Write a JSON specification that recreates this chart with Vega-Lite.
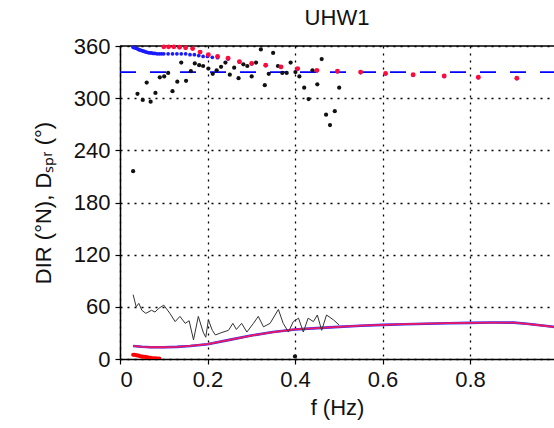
{
  "$schema": "https://vega.github.io/schema/vega-lite/v6.json",
  "width": 434,
  "height": 313,
  "autosize": "none",
  "padding": {"left": 120, "top": 46, "right": 0, "bottom": 69},
  "background": "white",
  "title": {"text": "UHW1", "font": "Liberation Sans", "fontSize": 22, "fontWeight": "normal", "color": "#111", "offset": 5},
  "config": {
    "view": {"stroke": null},
    "axis": {
      "labelFont": "Liberation Sans", "labelFontSize": 22, "labelColor": "#111",
      "titleFont": "Liberation Sans", "titleFontSize": 22, "titleFontWeight": "normal", "titleColor": "#111",
      "domainColor": "#000", "domainWidth": 1.5, "tickColor": "#000", "tickSize": 5, "tickWidth": 1.2,
      "gridColor": "#000", "gridDash": [2, 5], "gridWidth": 1.3, "gridOpacity": 1
    }
  },
  "datasets": {
    "fit": [
      {"f": 0.030, "v": 15}, {"f": 0.05, "v": 14}, {"f": 0.07, "v": 13.5}, {"f": 0.10, "v": 13.5},
      {"f": 0.13, "v": 14}, {"f": 0.16, "v": 15}, {"f": 0.20, "v": 17}, {"f": 0.25, "v": 22},
      {"f": 0.30, "v": 27}, {"f": 0.35, "v": 31}, {"f": 0.40, "v": 34}, {"f": 0.45, "v": 35.5},
      {"f": 0.50, "v": 37}, {"f": 0.55, "v": 38.3}, {"f": 0.60, "v": 39.2}, {"f": 0.65, "v": 40},
      {"f": 0.70, "v": 40.6}, {"f": 0.75, "v": 41.2}, {"f": 0.80, "v": 41.6}, {"f": 0.85, "v": 41.9},
      {"f": 0.90, "v": 41.8}, {"f": 0.93, "v": 40.5}, {"f": 0.96, "v": 38.8}, {"f": 0.99, "v": 37}, {"f": 1.0, "v": 36.5}
    ],
    "spread": [
      {"f": 0.030, "v": 74}, {"f": 0.037, "v": 60}, {"f": 0.043, "v": 64}, {"f": 0.050, "v": 56},
      {"f": 0.059, "v": 52.5}, {"f": 0.072, "v": 56}, {"f": 0.080, "v": 54}, {"f": 0.088, "v": 58},
      {"f": 0.100, "v": 62}, {"f": 0.114, "v": 52.5}, {"f": 0.126, "v": 43}, {"f": 0.137, "v": 49},
      {"f": 0.149, "v": 41}, {"f": 0.158, "v": 44}, {"f": 0.168, "v": 22}, {"f": 0.179, "v": 49},
      {"f": 0.190, "v": 31}, {"f": 0.196, "v": 25}, {"f": 0.202, "v": 45}, {"f": 0.211, "v": 33},
      {"f": 0.218, "v": 27.6}, {"f": 0.230, "v": 30}, {"f": 0.248, "v": 33}, {"f": 0.258, "v": 41},
      {"f": 0.266, "v": 34}, {"f": 0.278, "v": 41}, {"f": 0.290, "v": 31}, {"f": 0.305, "v": 41},
      {"f": 0.316, "v": 49}, {"f": 0.328, "v": 37}, {"f": 0.343, "v": 41}, {"f": 0.362, "v": 57},
      {"f": 0.373, "v": 41}, {"f": 0.385, "v": 31}, {"f": 0.396, "v": 43}, {"f": 0.408, "v": 47},
      {"f": 0.419, "v": 31}, {"f": 0.430, "v": 47}, {"f": 0.442, "v": 43}, {"f": 0.451, "v": 50.6},
      {"f": 0.461, "v": 33}, {"f": 0.472, "v": 50.6}, {"f": 0.488, "v": 45}, {"f": 0.501, "v": 39}
    ],
    "black": [
      {"f": 0.030, "v": 216}, {"f": 0.040, "v": 305}, {"f": 0.052, "v": 298}, {"f": 0.061, "v": 318},
      {"f": 0.070, "v": 296}, {"f": 0.081, "v": 306}, {"f": 0.091, "v": 324}, {"f": 0.101, "v": 325},
      {"f": 0.110, "v": 329}, {"f": 0.120, "v": 308}, {"f": 0.131, "v": 319}, {"f": 0.140, "v": 341},
      {"f": 0.151, "v": 320}, {"f": 0.162, "v": 331}, {"f": 0.171, "v": 340}, {"f": 0.181, "v": 338},
      {"f": 0.190, "v": 337}, {"f": 0.202, "v": 334}, {"f": 0.212, "v": 328}, {"f": 0.221, "v": 332},
      {"f": 0.231, "v": 336}, {"f": 0.241, "v": 341}, {"f": 0.251, "v": 327}, {"f": 0.261, "v": 335},
      {"f": 0.271, "v": 323}, {"f": 0.282, "v": 339}, {"f": 0.291, "v": 337}, {"f": 0.301, "v": 325},
      {"f": 0.311, "v": 341}, {"f": 0.322, "v": 356}, {"f": 0.331, "v": 315}, {"f": 0.340, "v": 328},
      {"f": 0.350, "v": 352}, {"f": 0.361, "v": 337}, {"f": 0.371, "v": 329}, {"f": 0.381, "v": 329},
      {"f": 0.390, "v": 341}, {"f": 0.401, "v": 330}, {"f": 0.410, "v": 325}, {"f": 0.421, "v": 312},
      {"f": 0.431, "v": 299}, {"f": 0.440, "v": 332}, {"f": 0.451, "v": 316}, {"f": 0.461, "v": 345},
      {"f": 0.471, "v": 281}, {"f": 0.480, "v": 269}, {"f": 0.491, "v": 285}, {"f": 0.501, "v": 312},
      {"f": 0.400, "v": 3}
    ],
    "blue": [
      {"f": 0.030, "v": 358.5}, {"f": 0.033, "v": 358}, {"f": 0.036, "v": 357.5}, {"f": 0.039, "v": 357},
      {"f": 0.042, "v": 356}, {"f": 0.045, "v": 355.5}, {"f": 0.048, "v": 355}, {"f": 0.051, "v": 354.5},
      {"f": 0.054, "v": 354}, {"f": 0.057, "v": 353.5}, {"f": 0.060, "v": 353}, {"f": 0.064, "v": 352.5},
      {"f": 0.068, "v": 352}, {"f": 0.072, "v": 352}, {"f": 0.076, "v": 351.5}, {"f": 0.080, "v": 351.5},
      {"f": 0.085, "v": 351}, {"f": 0.090, "v": 351}, {"f": 0.095, "v": 351}, {"f": 0.100, "v": 351},
      {"f": 0.110, "v": 351}, {"f": 0.120, "v": 351}, {"f": 0.130, "v": 351}, {"f": 0.140, "v": 351},
      {"f": 0.150, "v": 351}, {"f": 0.160, "v": 350}, {"f": 0.170, "v": 350}, {"f": 0.180, "v": 349},
      {"f": 0.190, "v": 348}, {"f": 0.200, "v": 348}, {"f": 0.211, "v": 347}, {"f": 0.223, "v": 346.5},
      {"f": 0.247, "v": 345}, {"f": 0.273, "v": 341.5}, {"f": 0.301, "v": 339.5}, {"f": 0.333, "v": 337.5},
      {"f": 0.368, "v": 335.5}, {"f": 0.406, "v": 333.5}, {"f": 0.450, "v": 331.5}, {"f": 0.497, "v": 330.5},
      {"f": 0.550, "v": 329.5}, {"f": 0.607, "v": 328}, {"f": 0.670, "v": 326.5}, {"f": 0.741, "v": 325},
      {"f": 0.819, "v": 323.5}, {"f": 0.907, "v": 322.5}
    ],
    "red": [
      {"f": 0.100, "v": 359}, {"f": 0.111, "v": 359}, {"f": 0.123, "v": 359}, {"f": 0.136, "v": 358.5},
      {"f": 0.150, "v": 358}, {"f": 0.166, "v": 357}, {"f": 0.183, "v": 353}, {"f": 0.202, "v": 350},
      {"f": 0.223, "v": 348}, {"f": 0.247, "v": 346}, {"f": 0.273, "v": 342}, {"f": 0.301, "v": 340},
      {"f": 0.333, "v": 338}, {"f": 0.368, "v": 336}, {"f": 0.406, "v": 334}, {"f": 0.450, "v": 332},
      {"f": 0.497, "v": 331}, {"f": 0.550, "v": 330}, {"f": 0.607, "v": 328.5}, {"f": 0.670, "v": 327},
      {"f": 0.741, "v": 325.5}, {"f": 0.819, "v": 324}, {"f": 0.907, "v": 323}
    ],
    "redlow": [
      {"f": 0.030, "v": 5}, {"f": 0.033, "v": 5}, {"f": 0.036, "v": 4.5}, {"f": 0.039, "v": 4},
      {"f": 0.042, "v": 4}, {"f": 0.045, "v": 3.5}, {"f": 0.048, "v": 3}, {"f": 0.051, "v": 3},
      {"f": 0.054, "v": 2.5}, {"f": 0.057, "v": 2.5}, {"f": 0.060, "v": 2}, {"f": 0.063, "v": 2},
      {"f": 0.066, "v": 1.5}, {"f": 0.070, "v": 1.5}, {"f": 0.074, "v": 1}, {"f": 0.078, "v": 1},
      {"f": 0.082, "v": 1}, {"f": 0.086, "v": 0.5}, {"f": 0.090, "v": 0.5}
    ],
    "mean": [{"f": 0, "v": 330}, {"f": 1, "v": 330}],
    "frame": [{"f": 0, "v": 360}, {"f": 1, "v": 360}]
  },
  "encoding": {
    "x": {"field": "f", "type": "quantitative",
          "scale": {"domain": [0, 0.992], "nice": false, "zero": false},
          "axis": {"orient": "bottom", "values": [0, 0.2, 0.4, 0.6, 0.8], "format": "~g", "title": "f (Hz)",
                   "grid": true, "labelPadding": 5, "titlePadding": 7}},
    "y": {"field": "v", "type": "quantitative",
          "scale": {"domain": [0, 360], "nice": false},
          "axis": {"orient": "left", "values": [0, 60, 120, 180, 240, 300, 360], "title": "DIR (°N), Dₛₚᵣ (°)",
                   "grid": true, "labelPadding": 5, "titlePadding": 18}}
  },
  "layer": [
    {"data": {"name": "frame"}, "mark": {"type": "line", "color": "#000", "strokeWidth": 1.5}},
    {"data": {"name": "fit"}, "mark": {"type": "line", "color": "#3030ff", "strokeWidth": 2.6, "clip": true}},
    {"data": {"name": "fit"}, "mark": {"type": "line", "color": "#f01860", "strokeWidth": 1.8, "clip": true}},
    {"data": {"name": "spread"}, "mark": {"type": "line", "color": "#333", "strokeWidth": 1}},
    {"data": {"name": "mean"}, "mark": {"type": "line", "color": "#0000ff", "strokeWidth": 1.6, "strokeDash": [16, 14]}},
    {"data": {"name": "black"}, "mark": {"type": "point", "shape": "circle", "filled": true, "color": "#111", "size": 18, "opacity": 1}},
    {"data": {"name": "blue"}, "mark": {"type": "point", "shape": "circle", "filled": true, "color": "#1a1aff", "size": 14, "opacity": 1}},
    {"data": {"name": "red"}, "mark": {"type": "point", "shape": "circle", "filled": true, "color": "#ff0a3c", "size": 24, "opacity": 1}},
    {"data": {"name": "redlow"}, "mark": {"type": "point", "shape": "circle", "filled": true, "color": "#ff0000", "size": 16, "opacity": 1, "clip": true}}
  ]
}
